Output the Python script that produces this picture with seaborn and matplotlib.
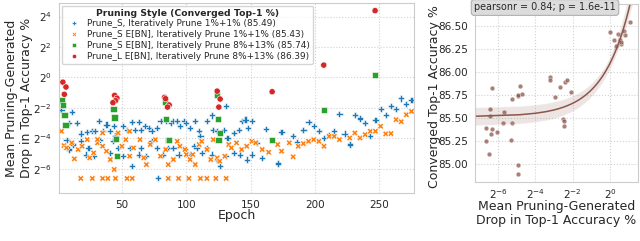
import numpy as np
import pandas as pd
import matplotlib
matplotlib.use('Agg')
import matplotlib.pyplot as plt
import seaborn as sns

# ── Left panel data: epoch and log2(mean pruning-generated drop %) ────────────
prune_s_epoch = [3, 11, 9, 15, 18, 23, 27, 29, 32, 35, 38, 41, 44, 45, 51, 54, 58, 60, 63, 65,
                 68, 71, 73, 77, 80, 84, 88, 90, 93, 95, 98, 100, 103, 107, 110, 111, 116, 121, 120, 131,
                 124, 129, 132, 137, 141, 143, 146, 148, 151,
                 7, 12, 9, 18, 22, 24, 28, 33, 41, 43, 47, 51, 56, 58, 63, 65, 69, 73, 77, 78,
                 82, 86, 90, 94, 99, 103, 106, 108, 112, 116, 120, 124, 126, 131, 137, 142, 147, 151,
                 155, 159, 162, 171, 174, 183, 186, 191, 195, 199, 203, 207, 211, 215, 219, 223, 227, 231,
                 235, 239, 243, 247, 251, 255, 259, 263, 267, 271, 275]
prune_s_log2 = [-2.16, -2.29, -2.99, -2.99, -3.69, -3.60, -3.54, -3.54, -2.88, -3.54, -3.10, -3.50, -3.21,
                -3.82, -3.21, -3.43, -2.95, -3.43, -2.95, -3.43, -3.21, -3.32, -3.54, -3.32, -2.88, -2.88,
                -2.99, -2.88, -2.88, -3.21, -2.88, -2.99, -3.32, -2.88, -3.54, -3.87, -2.88, -3.43, -2.50,
                -1.90, -3.54, -3.43, -3.98, -3.65, -3.43, -2.88, -2.77, -3.32, -2.88,
                -4.09, -4.41, -4.74, -4.20, -5.07, -4.63, -5.18, -4.09, -4.96, -4.20, -4.63, -5.18, -4.63,
                -5.83, -5.07, -4.63, -5.18, -4.20, -4.63, -6.60, -5.07, -4.63, -4.63, -5.07, -4.74, -5.07,
                -4.52, -4.63, -4.96, -4.63, -5.07, -5.40, -5.83, -5.18, -4.96, -5.07, -5.40, -5.07,
                -4.30, -5.29, -3.39, -5.66, -3.58, -3.87, -4.24, -3.47, -2.95, -3.17, -3.54, -3.98, -3.76,
                -3.54, -2.40, -3.69, -4.41, -2.45, -2.70, -2.99, -3.85, -2.78, -2.08, -2.45, -1.90, -2.05,
                -1.38, -1.75, -1.46]

ebn_small_epoch = [3, 5, 7, 11, 13, 16, 19, 23, 25, 28, 31, 35, 38, 41, 44, 47, 50, 53, 56, 59,
                   64, 67, 69, 72, 76, 80, 84, 86, 90, 93, 95, 99, 100, 103, 105, 107, 110, 112, 116, 119,
                   121, 124, 126, 130, 133, 135, 139, 143, 147, 151, 35, 47, 56, 31,
                   18, 27, 35, 39, 45, 54, 58, 86, 94, 102, 111, 116, 123, 131,
                   154, 159, 164, 171, 174, 180,
                   183, 187, 191, 195, 199, 203, 207, 211, 215, 219, 227, 231, 235, 239, 243,
                   247, 251, 255, 259, 263, 267, 271, 275]
ebn_small_log2 = [-3.54, -4.48, -4.63, -4.30, -5.35, -4.74, -4.52, -4.09, -5.29, -4.96,
                  -4.30, -4.52, -4.85, -5.40, -6.05, -5.18, -4.52, -4.09, -5.18, -4.63,
                  -4.09, -5.29, -5.73, -4.41, -4.09, -5.18, -4.74, -5.73, -5.40, -4.20,
                  -4.52, -4.74, -5.07, -5.40, -5.07, -5.73, -4.41, -4.20, -4.74, -5.40,
                  -4.09, -5.29, -5.51, -5.18, -4.41, -4.63, -4.30, -4.74, -4.52, -4.20,
                  -3.65, -3.65, -3.54, -4.08,
                  -6.64, -6.64, -6.64, -6.64, -6.64, -6.64, -6.64, -6.64, -6.64, -6.64, -6.64, -6.64, -6.64, -6.64,
                  -4.30, -4.74, -4.92, -4.41, -4.85, -4.30,
                  -5.22, -4.52, -4.35, -4.20, -4.09, -4.20, -4.52, -3.87, -3.87, -4.09, -3.98, -3.65, -3.98,
                  -3.76, -3.54,
                  -3.54, -3.21, -3.71, -3.69, -2.78, -2.91, -2.45, -2.23]

ebn_big_epoch = [3.4, 4.4, 5.4, 6.2, 43.5, 44.3, 45.3, 46.1, 83.3, 84.4, 85.7, 86.7,
                 124.0, 124.7, 125.0, 126.0, 166.7, 206.8, 246.7]
ebn_big_log2 = [-1.51, -1.81, -2.49, -3.12, -2.08, -2.64, -4.04, -5.18, -1.62, -2.71, -4.11, -4.13,
                -1.18, -2.71, -4.11, -3.65, -4.11, -2.12, 0.15]

large_epoch = [4.1, 6.5, 5.2, 44.3, 46.1, 45.0, 43.0, 83.1, 83.9, 86.7, 85.4,
               124.0, 126.3, 125.3, 166.7, 206.8, 246.7]
large_log2 = [-0.31, -0.63, -1.11, -1.18, -1.36, -1.53, -1.66, -1.31, -1.40, -1.81, -1.95,
              -0.90, -1.42, -1.95, -0.94, 0.81, 4.39]

styles = ['Prune_S, Iteratively Prune 1%+1% (85.49)',
          'Prune_S E[BN], Iteratively Prune 1%+1% (85.43)',
          'Prune_S E[BN], Iteratively Prune 8%+13% (85.74)',
          'Prune_L E[BN], Iteratively Prune 8%+13% (86.39)']

# ── Right panel data: log2(mean drop %) vs converged top-1 accuracy ──────────
drop_log2 = [-6.45, -6.45, -6.34, -6.63, -6.32, -6.36, -6.09, -6.63, -6.50, -5.68,
             -5.73, -5.27, -5.34, -5.25, -4.96, -4.96, -4.82, -4.71, -4.95, -4.93,
             -3.23, -3.23, -2.95, -2.66, -2.41, -2.29, -2.09, -2.50, -2.46, -2.46,
             0.02, 0.23, 0.34, 0.43, 0.52, 0.60, 0.73, 0.79, 0.57, 1.05]
converged_acc = [85.60, 85.53, 85.83, 85.40, 85.38, 85.33, 85.35, 85.25, 85.11, 85.57,
                 85.45, 85.45, 85.27, 85.71, 85.74, 85.75, 85.85, 85.76, 84.99, 84.90,
                 85.95, 85.92, 85.73, 85.84, 85.89, 85.91, 85.78, 85.49, 85.47, 85.42,
                 86.43, 86.35, 86.28, 86.41, 86.35, 86.31, 86.45, 86.40, 86.33, 86.54]

# ── Build long table ─────────────────────────────────────────────────────────
parts = []
for name, ep, lg in zip(styles,
                        [prune_s_epoch, ebn_small_epoch, ebn_big_epoch, large_epoch],
                        [prune_s_log2, ebn_small_log2, ebn_big_log2, large_log2]):
    parts.append(pd.DataFrame({'epoch': ep, 'drop': 2.0 ** np.array(lg), 'style': name}))
df = pd.concat(parts, ignore_index=True)

sns.set_style('whitegrid', {'grid.linestyle': ':', 'grid.color': '.82', 'axes.edgecolor': '.8'})
plt.rcParams['font.family'] = ['DejaVu Sans']

fig = plt.figure(figsize=(6.4, 2.41), dpi=100)
ax1 = fig.add_axes([0.092, 0.199, 0.555, 0.789])
ax2 = fig.add_axes([0.742, 0.245, 0.255, 0.739])

palette = dict(zip(styles, ['#1f77b4', '#ff7f0e', '#2ca02c', '#d62728']))
markers = dict(zip(styles, ['P', 'X', 's', 'o']))

sns.scatterplot(data=df, x='epoch', y='drop', hue='style', style='style',
                hue_order=styles, style_order=styles, palette=palette, markers=markers,
                s=20, linewidth=0.4, edgecolor='white', ax=ax1)
ax1.set_yscale('log', base=2)
ax1.set_yticks([2.0 ** k for k in range(-6, 5, 2)])
ax1.set_ylim(2 ** -7.6, 2 ** 4.9)
ax1.set_xlim(1, 277)
ax1.set_xticks([50, 100, 150, 200, 250])
ax1.set_xlabel('Epoch', fontsize=9, va='top')
ax1.set_ylabel('Mean Pruning-Generated\nDrop in Top-1 Accuracy %', fontsize=9)
ax1.xaxis.set_label_coords(0.5, -0.083)
ax1.yaxis.set_label_coords(-0.074, 0.5)
ax1.tick_params(labelsize=7.5, pad=1.5)

sns.move_legend(ax1, 'upper left', title='Pruning Style (Converged Top-1 %)',
                fontsize=6.4, title_fontsize=6.7, frameon=True, borderaxespad=0.3,
                handletextpad=0.5, labelspacing=0.2, borderpad=0.35, markerscale=0.7)
ax1.get_legend().get_title().set_fontweight('bold')

# ── Right panel ──────────────────────────────────────────────────────────────
ax2.set_xscale('log', base=2)
ax2.set_xlim(2 ** -7.25, 2 ** 1.5)
ax2.set_ylim(84.81, 86.74)
sns.regplot(x=2.0 ** np.array(drop_log2), y=np.array(converged_acc), ax=ax2,
            truncate=False, color='#8c564b', seed=0,
            scatter_kws=dict(s=12, alpha=0.75, edgecolors='white', linewidths=0.4),
            line_kws=dict(lw=1.1))
ax2.set_xticks([2.0 ** k for k in (-6, -4, -2, 0)])
ax2.set_yticks([85.0, 85.25, 85.5, 85.75, 86.0, 86.25, 86.5])
ax2.yaxis.set_major_formatter(matplotlib.ticker.FormatStrFormatter('%.2f'))
ax2.set_xlabel('Mean Pruning-Generated\nDrop in Top-1 Accuracy %', fontsize=9, linespacing=1.1)
ax2.set_ylabel('Converged Top-1 Accuracy %', fontsize=9)
ax2.xaxis.set_label_coords(0.5, -0.1)
ax2.yaxis.set_label_coords(-0.21, 0.48)
ax2.tick_params(axis='y', labelsize=7.5, pad=1.5)
ax2.tick_params(axis='x', labelsize=7.5, pad=0.5)

fig.text(545 / 640, 1 - 7.5 / 241, 'pearsonr = 0.84; p = 1.6e-11', fontsize=6.9,
         ha='center', va='center', color='.15',
         bbox=dict(boxstyle='round,pad=0.3', fc='#dcdcdc', ec='#b0b0b0', lw=0.8))

fig.savefig('out.png', dpi=100)
